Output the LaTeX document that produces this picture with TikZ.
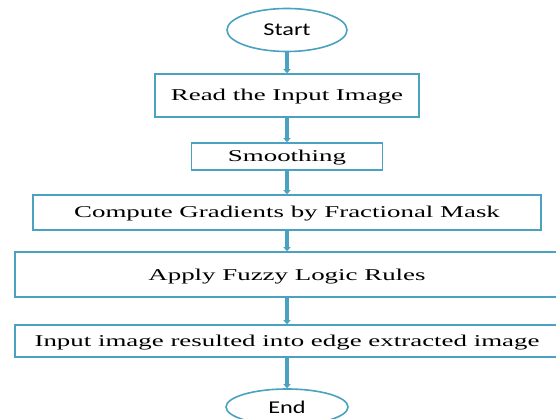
\documentclass[tikz,border=0pt]{standalone}
\usepackage{fontspec}
\setmainfont{Liberation Serif}
\newfontfamily\termfont{Carlito}
\usetikzlibrary{arrows.meta,shapes.geometric}
\definecolor{flowteal}{RGB}{74,162,192}
\tikzset{>={Triangle[width=7pt,length=4pt]}}
\newcommand*{\wt}[1]{\scalebox{1.63}[1]{#1}}
\newcommand*{\wst}[1]{\scalebox{1.35}[1]{#1}}

\begin{document}
\begin{tikzpicture}[x=1pt,y=-1pt,
  box/.style={draw=flowteal,line width=1.6pt,rectangle,inner sep=0pt,
              text height=11pt,text depth=0pt,
              font=\fontsize{16.5}{18}\selectfont},
  term/.style={draw=flowteal,line width=1.6pt,ellipse,inner sep=0pt,
               text height=12pt,text depth=0pt,
               font=\termfont\fontsize{18}{20}\selectfont},
  flow/.style={->,draw=flowteal,line width=3.5pt}]
\useasboundingbox (0,0) rectangle (556,419);
\node[term,minimum width=120pt,minimum height=43pt] (start) at (287,30) {\wst{Start}};
\node[box,minimum width=264pt,minimum height=43pt] (read) at (287,95.5) {\wt{Read the Input Image}};
\node[box,minimum width=191pt,minimum height=27pt] (smooth) at (287,156.5) {\wt{Smoothing}};
\node[box,minimum width=508pt,minimum height=35pt] (grad) at (287,212.5) {\wt{Compute Gradients by Fractional Mask}};
\node[box,minimum width=544pt,minimum height=45pt] (fuzzy) at (287,274.5) {\wt{Apply Fuzzy Logic Rules}};
\node[box,minimum width=544pt,minimum height=32pt] (edge) at (287,341) {\wt{Input image resulted into edge extracted image}};
\node[term,minimum width=122pt,minimum height=36pt] (end) at (287,407) {\wst{End}};
\draw[flow] (start.south) -- (read.north);
\draw[flow] (read.south) -- (smooth.north);
\draw[flow] (smooth.south) -- (grad.north);
\draw[flow] (grad.south) -- (fuzzy.north);
\draw[flow] (fuzzy.south) -- (edge.north);
\draw[flow] (edge.south) -- (end.north);
\end{tikzpicture}
\end{document}
